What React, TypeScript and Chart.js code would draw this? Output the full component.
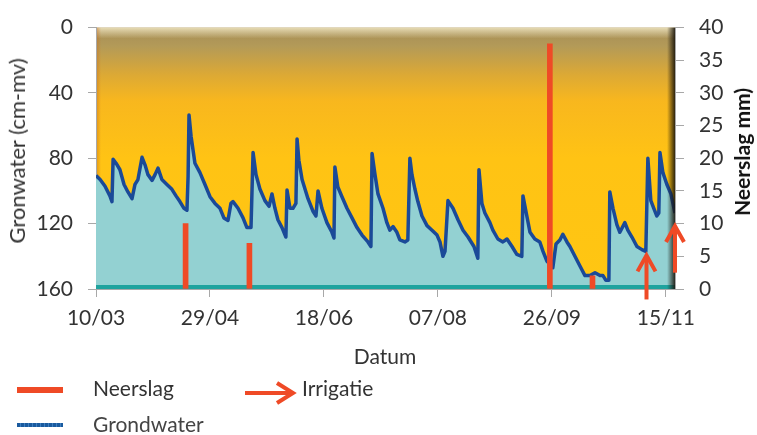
import React, { useEffect, useRef } from "react";
import { Chart, registerables } from "chart.js";
Chart.register(...registerables);

const FONT = 'Lato, "Open Sans", sans-serif';

// x axis: days since 10/03
const tickDays = [0, 50, 100, 150, 200, 250];
const tickLabels = ["10/03", "29/04", "18/06", "07/08", "26/09", "15/11"];
const xMaxDay = 254;

// Grondwater (cm-mv)
const gwDay = [
  0, 1.8, 3.9, 6.1, 7.0, 7.5, 8.8, 10.5, 12.3, 14.0,
  15.8, 17.1, 18.4, 20.2, 21.5, 22.8, 24.6, 25.9, 27.2, 28.9,
  31.1, 33.3, 35.1, 36.8, 38.6, 39.9, 40.4, 40.8, 41.7, 43.4,
  45.6, 47.8, 50.0, 52.2, 54.4, 56.1, 57.9, 59.2, 60.1, 62.3,
  64.5, 66.2, 68.0, 68.9, 70.2, 71.9, 74.1, 75.9, 77.2, 78.5,
  79.8, 81.6, 83.3, 83.8, 85.1, 86.4, 87.7, 88.2, 89.0, 90.4,
  93.0, 95.2, 96.5, 97.4, 99.1, 101.3, 103.5, 104.4, 104.8, 106.1,
  107.9, 110.1, 112.3, 114.5, 116.7, 119.3, 120.6, 121.1, 122.4, 123.7,
  125.9, 127.6, 128.9, 130.3, 132.0, 133.3, 135.5, 136.8, 137.7, 138.6,
  139.9, 141.2, 143.0, 145.2, 147.4, 149.6, 150.9, 152.2, 153.1, 154.4,
  156.6, 158.8, 161.0, 163.2, 165.8, 167.5, 168.0, 169.3, 170.6, 172.8,
  174.1, 176.3, 178.5, 180.3, 182.5, 184.6, 186.8, 187.3, 189.0, 190.4,
  192.5, 194.7, 196.1, 197.8, 199.1, 200.4, 201.8, 203.5, 204.8, 206.6,
  207.9, 210.1, 212.3, 214.5, 216.7, 218.9, 221.1, 222.4, 223.7, 225.0,
  225.4, 226.8, 228.5, 229.8, 232.0, 233.3, 235.1, 237.3, 239.5, 241.2,
  242.1, 243.4, 244.7, 246.0, 246.9, 247.4, 248.7, 250.4, 252.2, 254.0,
];
const gwCm = [
  90.6, 93, 97, 103, 106.5, 80.6, 83, 87, 96, 100.6,
  104.7, 96, 93, 79.4, 84, 90, 93.5, 90, 86, 93,
  96, 99, 103, 106.5, 110.6, 111.8, 91, 53.5, 66.5, 83,
  88.8, 96, 103.5, 107.6, 110.6, 116.5, 118, 107.6, 106.5, 110.6,
  116.5, 122.4, 122.4, 76.5, 90, 98.8, 105.9, 109.4, 101.8, 110.6,
  117.6, 122.4, 128.2, 99.4, 110.6, 110.6, 107.6, 68.2, 81.2, 93,
  104.7, 112.4, 115.3, 100, 110.6, 119.4, 125.3, 128.8, 85.3, 97.6,
  103.5, 110.6, 116.5, 122.4, 127, 131.2, 134, 77, 90, 101.8,
  110.6, 119.4, 124, 121.8, 125.3, 130, 131.2, 130, 80, 90,
  98.8, 106.5, 115.3, 121.2, 124, 127, 131.2, 140, 137, 105.9,
  110.6, 117.6, 124, 128.2, 134, 141.2, 87, 107.6, 113.5, 119.4,
  124, 129.4, 131.2, 129.4, 134, 138.8, 140, 103, 115.3, 125.3,
  129.4, 131.2, 137, 143, 144.7, 147, 132.4, 130, 126.5, 131.2,
  134, 140, 145.9, 151.8, 151.8, 150, 151.8, 151.8, 154.7, 154.7,
  100.6, 110.6, 120.6, 125.3, 119.4, 124, 128.2, 134, 135.9, 137,
  80, 105.9, 110.6, 115.3, 113.5, 76.5, 88.8, 95.9, 101.8, 113.5,
];

// Neerslag (mm)
const rainDay = [39.3, 67.3, 199.1, 217.8];
const rainMm = [10, 7, 37.5, 2];

// Irrigatie arrows (mm on right axis)
const irrDay = [241.5, 254];
const irrFromMm = [-1.6, 2.5];
const irrToMm = [5.3, 9.8];

const RED = "#ef4a26";
const BLUE = "#1b4a98";

const framePlugin = {
  id: "framePlugin",
  beforeDraw(chart: any) {
    const { ctx, chartArea: a } = chart;
    const w = a.right - a.left;
    const h = a.bottom - a.top;
    ctx.save();
    const g = ctx.createLinearGradient(0, a.top, 0, a.bottom);
    g.addColorStop(0, "#a58d57");
    g.addColorStop(0.07, "#b39a58");
    g.addColorStop(0.18, "#dca935");
    g.addColorStop(0.28, "#f8b71e");
    g.addColorStop(0.5, "#ffc314");
    g.addColorStop(1, "#ffc612");
    ctx.fillStyle = g;
    ctx.fillRect(a.left, a.top, w, h);
    // top bevel
    const t = ctx.createLinearGradient(0, a.top, 0, a.top + 11);
    t.addColorStop(0, "rgba(238,228,190,0.9)");
    t.addColorStop(1, "rgba(238,228,190,0)");
    ctx.fillStyle = t;
    ctx.fillRect(a.left, a.top, w, 11);
    // left bevel
    const l = ctx.createLinearGradient(a.left, 0, a.left + 5, 0);
    l.addColorStop(0, "rgba(200,110,30,0.55)");
    l.addColorStop(1, "rgba(200,110,30,0)");
    ctx.fillStyle = l;
    ctx.fillRect(a.left, a.top, 5, h);
    ctx.restore();
  },
  afterDatasetDraw(chart: any, args: any) {
    if (args.index !== 0) return;
    const { ctx, chartArea: a } = chart;
    const w = a.right - a.left;
    const h = a.bottom - a.top;
    ctx.save();
    // bottom teal strip
    ctx.fillStyle = "#1fa39e";
    ctx.fillRect(a.left, a.bottom - 4, w, 4);
    // right dark bevel
    const r = ctx.createLinearGradient(a.right - 8, 0, a.right, 0);
    r.addColorStop(0, "rgba(25,20,10,0)");
    r.addColorStop(1, "rgba(25,20,10,0.9)");
    ctx.fillStyle = r;
    ctx.fillRect(a.right - 8, a.top, 8, h);
    ctx.restore();
  },
  afterDatasetsDraw(chart: any) {
    const { ctx } = chart;
    const xs = chart.scales.x;
    const ys = chart.scales.y2;
    ctx.save();
    ctx.strokeStyle = RED;
    ctx.lineWidth = 4;
    ctx.lineCap = "butt";
    ctx.lineJoin = "miter";
    for (let i = 0; i < irrDay.length; i++) {
      const x = xs.getPixelForValue(irrDay[i]);
      const y0 = ys.getPixelForValue(irrFromMm[i]);
      const y1 = ys.getPixelForValue(irrToMm[i]);
      ctx.beginPath();
      ctx.moveTo(x, y0);
      ctx.lineTo(x, y1 + 2);
      ctx.stroke();
      ctx.beginPath();
      ctx.moveTo(x - 9, y1 + 17);
      ctx.lineTo(x, y1 + 1);
      ctx.lineTo(x + 9, y1 + 17);
      ctx.stroke();
    }
    ctx.restore();
  },
};

export default function App() {
  const ref = useRef<HTMLCanvasElement | null>(null);

  useEffect(() => {
    document.body.style.margin = "0";
    const canvas = ref.current;
    if (!canvas) return;
    const tickFont = { family: FONT, size: 21 };
    const chart = new Chart(canvas, {
      type: "line",
      data: {
        datasets: [
          {
            type: "line",
            label: "Grondwater",
            data: gwDay.map((d, i) => ({ x: d, y: gwCm[i] })),
            yAxisID: "y",
            borderColor: BLUE,
            borderWidth: 3.5,
            pointRadius: 0,
            tension: 0,
            borderJoinStyle: "round",
            fill: { value: 160 },
            backgroundColor: "#93d1d2",
            order: 1,
          } as any,
          {
            type: "bar",
            label: "Neerslag",
            data: rainDay.map((d, i) => ({ x: d, y: rainMm[i] })),
            yAxisID: "y2",
            backgroundColor: RED,
            barThickness: 5,
            order: 0,
          } as any,
        ],
      },
      options: {
        responsive: false,
        animation: false,
        devicePixelRatio: 1,
        layout: { padding: { top: 17, left: 0, right: 0, bottom: 0 } },
        plugins: { legend: { display: false }, tooltip: { enabled: false } },
        scales: {
          x: {
            type: "linear",
            position: "bottom",
            offset: false,
            min: 0,
            max: xMaxDay,
            afterBuildTicks: (s: any) => {
              s.ticks = tickDays.map((v) => ({ value: v }));
            },
            afterFit: (s: any) => {
              s.height = 146;
            },
            ticks: {
              autoSkip: false,
              maxRotation: 0,
              font: tickFont,
              color: "#333",
              padding: 9,
              callback: (_v: any, i: number) => tickLabels[i] ?? "",
            },
            grid: { offset: false, drawOnChartArea: false, tickLength: 8, color: "#a8a8a8" },
            border: { color: "#a8a8a8" },
          },
          y: {
            type: "linear",
            position: "left",
            reverse: true,
            min: 0,
            max: 160,
            afterFit: (s: any) => {
              s.width = 96;
            },
            ticks: { stepSize: 40, font: tickFont, color: "#333", padding: 15 },
            grid: { drawOnChartArea: false, tickLength: 8, color: "#a8a8a8" },
            border: { color: "#a8a8a8" },
          },
          y2: {
            type: "linear",
            position: "right",
            min: 0,
            max: 40,
            afterFit: (s: any) => {
              s.width = 82;
            },
            ticks: { stepSize: 5, font: tickFont, color: "#333", padding: 15 },
            grid: { drawOnChartArea: false, tickLength: 9, color: "#a8a8a8" },
            border: { color: "#a8a8a8" },
          },
        },
      },
      plugins: [framePlugin],
    } as any);
    return () => chart.destroy();
  }, []);

  const txt: React.CSSProperties = {
    position: "absolute",
    fontFamily: FONT,
    fontSize: 21,
    color: "#333",
    whiteSpace: "nowrap",
    lineHeight: "24px",
  };

  return (
    <div style={{ position: "relative", width: 757, height: 435, overflow: "hidden", background: "#fff" }}>
      <canvas ref={ref} width={757} height={435} style={{ display: "block", width: 757, height: 435 }} />
      {/* axis titles */}
      <div
        style={{
          ...txt,
          fontSize: 22,
          left: 17,
          top: 151,
          writingMode: "vertical-rl",
          transform: "translate(-50%, -50%) rotate(180deg)",
        }}
      >
        Gronwater (cm-mv)
      </div>
      <div
        style={{
          ...txt,
          fontWeight: 700,
          color: "#111",
          left: 742,
          top: 152,
          writingMode: "vertical-rl",
          transform: "translate(-50%, -50%) rotate(180deg)",
        }}
      >
        Neerslag mm)
      </div>
      <div style={{ ...txt, left: 385, top: 356, transform: "translate(-50%, -50%)" }}>Datum</div>
      {/* legend */}
      <div style={{ position: "absolute", left: 17, top: 387, width: 46, height: 6, background: RED }} />
      <div style={{ ...txt, left: 93, top: 376 }}>Neerslag</div>
      <svg style={{ position: "absolute", left: 240, top: 378 }} width={60} height={30}>
        <line x1={5} y1={15} x2={51} y2={15} stroke={RED} strokeWidth={4} />
        <polyline points="37,5 53,15 37,25" fill="none" stroke={RED} strokeWidth={4} />
      </svg>
      <div style={{ ...txt, left: 302, top: 376 }}>Irrigatie</div>
      <div
        style={{
          position: "absolute",
          left: 17,
          top: 423,
          width: 46,
          height: 4,
          background: "repeating-linear-gradient(90deg, #1a5a9e 0 3px, #3f7fc0 3px 4px)",
        }}
      />
      <div style={{ ...txt, left: 93, top: 412, color: "#444" }}>Grondwater</div>
    </div>
  );
}
